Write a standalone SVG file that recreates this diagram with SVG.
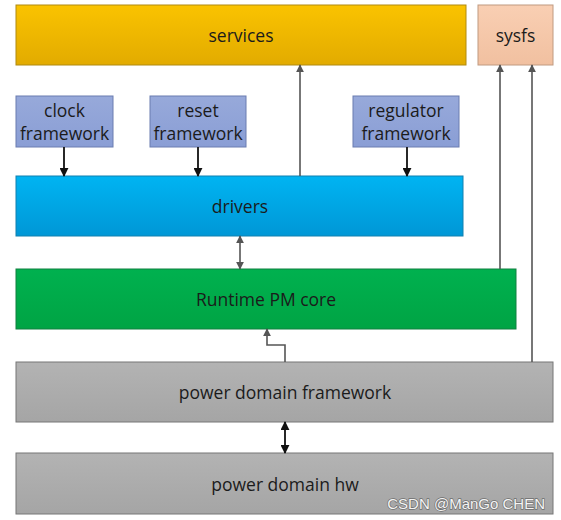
<svg xmlns="http://www.w3.org/2000/svg" width="561" height="520" viewBox="0 0 561 520">
<style>
.t{font-family:"Open Sans","Noto Sans",sans-serif;font-size:17.5px;fill:#1b1b1b;text-anchor:middle;dominant-baseline:central}
.c{fill:none;stroke:#555;stroke-width:1.6}
.cb{fill:none;stroke:#111;stroke-width:1.8}
</style>
<defs>
<linearGradient id="gy" x1="0" y1="0" x2="0" y2="1"><stop offset="0" stop-color="#fac300"/><stop offset="1" stop-color="#e2ab00"/></linearGradient>
<linearGradient id="gb" x1="0" y1="0" x2="0" y2="1"><stop offset="0" stop-color="#00b4f2"/><stop offset="1" stop-color="#0097d6"/></linearGradient>
<linearGradient id="gg" x1="0" y1="0" x2="0" y2="1"><stop offset="0" stop-color="#00b14f"/><stop offset="1" stop-color="#00a444"/></linearGradient>
<linearGradient id="gr" x1="0" y1="0" x2="0" y2="1"><stop offset="0" stop-color="#b3b3b3"/><stop offset="1" stop-color="#a5a5a5"/></linearGradient>
<linearGradient id="gp" x1="0" y1="0" x2="0" y2="1"><stop offset="0" stop-color="#f9cfb3"/><stop offset="1" stop-color="#f1c0a0"/></linearGradient>
<linearGradient id="gv" x1="0" y1="0" x2="0" y2="1"><stop offset="0" stop-color="#97a9da"/><stop offset="1" stop-color="#8a9ed5"/></linearGradient>
<marker id="a" viewBox="0 0 10 10" refX="9" refY="5" markerWidth="8" markerHeight="8" markerUnits="userSpaceOnUse" orient="auto-start-reverse"><path d="M0,0L10,5L0,10z" fill="#555"/></marker>
<marker id="ab" viewBox="0 0 10 10" refX="9" refY="5" markerWidth="9" markerHeight="9" markerUnits="userSpaceOnUse" orient="auto-start-reverse"><path d="M0,0L10,5L0,10z" fill="#111"/></marker>
</defs>
<g id="services"><rect x="16" y="5" width="450" height="60" fill="url(#gy)" stroke="#b08a10"/><text class="t" x="241" y="35">services</text></g>
<g id="sysfs"><rect x="478" y="5" width="75" height="60" fill="url(#gp)" stroke="#c09a80"/><text class="t" x="515.5" y="35">sysfs</text></g>
<g id="clock"><rect x="16" y="96" width="97" height="51" fill="url(#gv)" stroke="#6a7cb0"/><text class="t" x="64.5" y="110">clock</text><text class="t" x="64.5" y="133">framework</text></g>
<g id="reset"><rect x="150" y="96" width="96" height="51" fill="url(#gv)" stroke="#6a7cb0"/><text class="t" x="198" y="110">reset</text><text class="t" x="198" y="133">framework</text></g>
<g id="regulator"><rect x="353" y="96" width="106" height="51" fill="url(#gv)" stroke="#6a7cb0"/><text class="t" x="406" y="110">regulator</text><text class="t" x="406" y="133">framework</text></g>
<g id="drivers"><rect x="16" y="176" width="447" height="60" fill="url(#gb)" stroke="#1080b0"/><text class="t" x="240" y="206">drivers</text></g>
<g id="runtime"><rect x="16" y="269" width="500" height="60" fill="url(#gg)" stroke="#108040"/><text class="t" x="266" y="299">Runtime PM core</text></g>
<g id="pdf"><rect x="16" y="362" width="537" height="60" fill="url(#gr)" stroke="#777"/><text class="t" x="285" y="392">power domain framework</text></g>
<g id="pdhw"><rect x="16" y="453" width="537" height="61" fill="url(#gr)" stroke="#777"/><text class="t" x="285" y="484">power domain hw</text></g>
<g id="connectors">
<path class="cb" d="M64,147V176" marker-end="url(#ab)"/>
<path class="cb" d="M198,147V176" marker-end="url(#ab)"/>
<path class="cb" d="M407,147V176" marker-end="url(#ab)"/>
<path class="c" d="M300,176V65" marker-end="url(#a)"/>
<path class="c" d="M240,236V269" marker-start="url(#a)" marker-end="url(#a)"/>
<path class="c" d="M500,269V65" marker-end="url(#a)"/>
<path class="c" d="M532,362V65" marker-end="url(#a)"/>
<path class="c" d="M285,362V345H267V329" marker-end="url(#a)"/>
<path class="cb" d="M285,422V453" marker-start="url(#ab)" marker-end="url(#ab)"/>
</g>
<text x="545" y="503" font-family="Liberation Sans,Arial,sans-serif" font-size="15" fill="#f4f4f4" stroke="#6e6e6e" stroke-width="1.4" paint-order="stroke" text-anchor="end" dominant-baseline="central">CSDN @ManGo CHEN</text>
</svg>
